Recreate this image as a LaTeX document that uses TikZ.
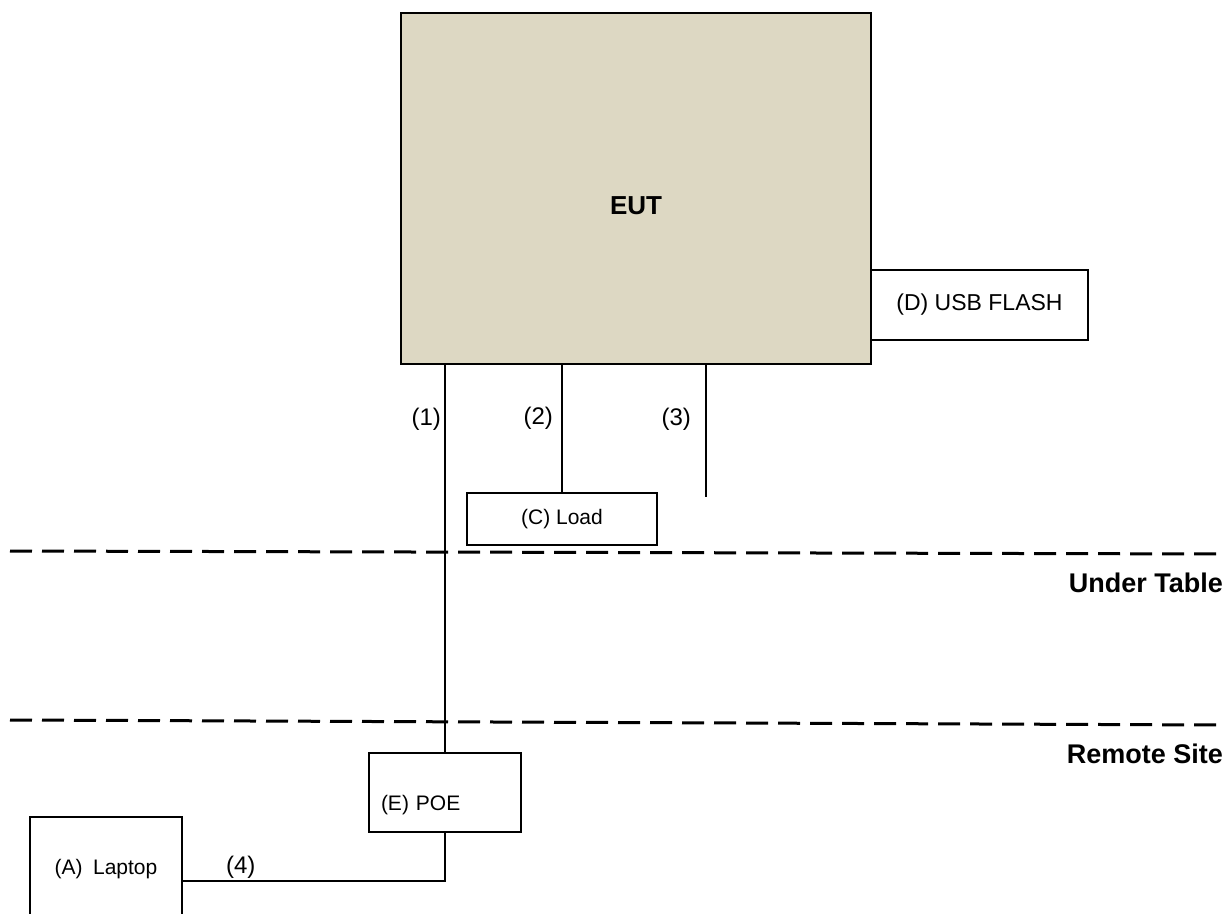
\documentclass[tikz,border=0pt]{standalone}
\usepackage{fontspec}
\setmainfont{Liberation Sans}
\usetikzlibrary{positioning,calc}
\definecolor{eutfill}{RGB}{221,216,195}
\tikzset{
  devbox/.style={draw=black, fill=white, line width=2.2pt, inner sep=0pt,
                 align=center, font=\fontsize{21}{25}\selectfont},
  cable/.style={draw=black, line width=2.2pt},
  cablelab/.style={font=\fontsize{24}{28}\selectfont, inner sep=1pt},
  arealab/.style={anchor=east, inner sep=0pt, font=\bfseries\fontsize{27}{32}\selectfont},
  sepline/.style={draw=black, line width=3pt, dash pattern=on 22pt off 10pt},
}

\begin{document}
\begin{tikzpicture}[x=1pt,y=-1pt]
\useasboundingbox (0,0) rectangle (1225,913);
\coordinate (ut-l) at (10,551);
\coordinate (ut-r) at (1225,554);
\coordinate (rs-l) at (10,720);
\coordinate (rs-r) at (1225,725);
\draw[sepline] (ut-l) -- (ut-r);
\draw[sepline] (rs-l) -- (rs-r);
\node[arealab] (undertable) at (1223,583) {Under Table};
\node[arealab] (remote) at (1223,754) {Remote Site};
\node[devbox, fill=eutfill, minimum width=470, minimum height=351,
  text height=52pt, text depth=0pt, font=\bfseries\fontsize{26}{30}\selectfont]
  (eut) at (636,188.5) {EUT};
\node[devbox, minimum width=217, minimum height=70, font=\fontsize{23}{27}\selectfont]
  (usb) at (979.5,305) {(D) USB FLASH};
\node[devbox, minimum width=190, minimum height=52] (load) at (562,519) {(C) Load};
\node[devbox, minimum width=152, minimum height=79, text width=128pt, align=left,
  text height=36pt, text depth=0pt] (poe) at (445,792.5) {(E) POE};
\node[devbox, minimum width=152, minimum height=104] (laptop) at (106,869)
  {(A)\enspace Laptop};
\coordinate (end3) at (706,497);
\draw[cable] (poe.north |- eut.south) -- node[cablelab, pos=0.14, left=2pt]{(1)} (poe.north);
\draw[cable] (load.north |- eut.south) -- node[cablelab, pos=0.42, left=7pt]{(2)} (load.north);
\draw[cable] (end3 |- eut.south) -- node[cablelab, pos=0.41, left=13pt]{(3)} (end3);
\draw[cable] (poe.south) |- node[cablelab, pos=0.89, above=0pt]{(4)}
  ([yshift=-12pt]laptop.east);
\end{tikzpicture}
\end{document}
